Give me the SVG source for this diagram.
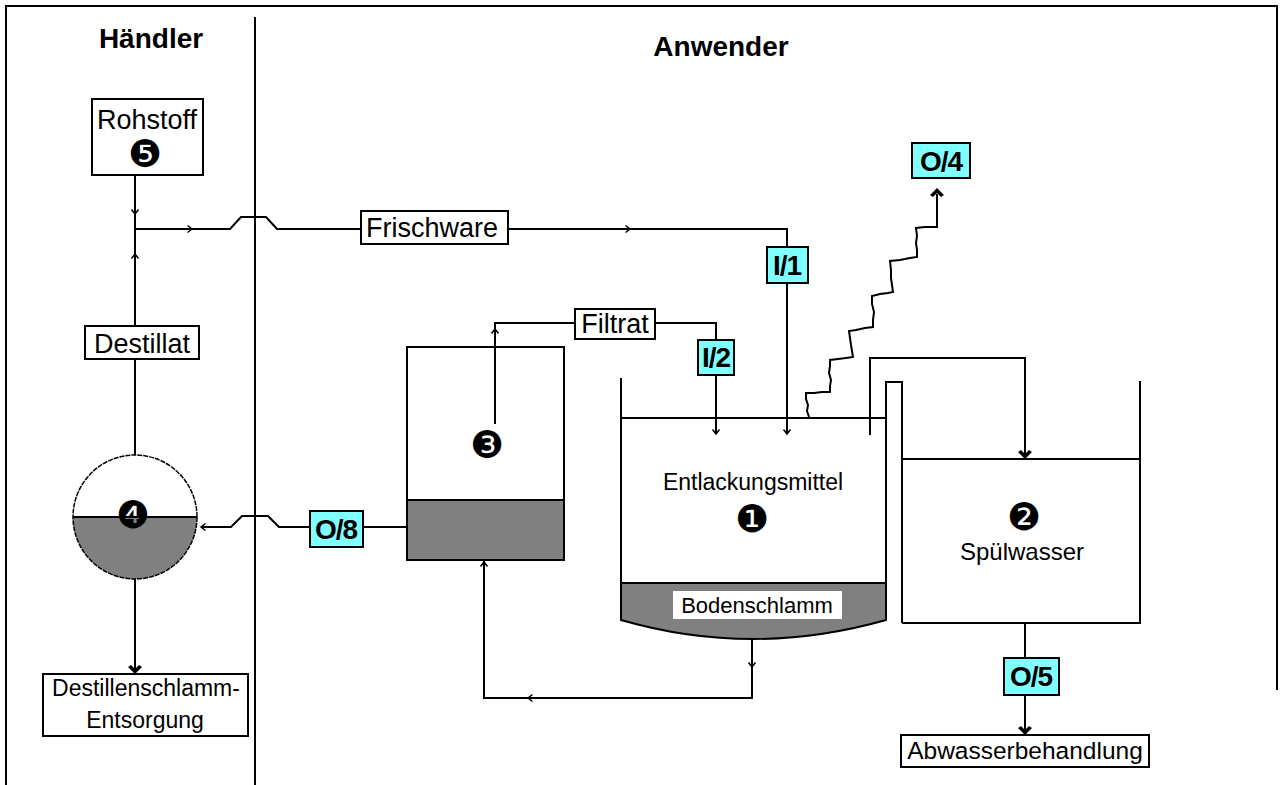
<svg xmlns="http://www.w3.org/2000/svg" width="1282" height="785" viewBox="0 0 1282 785">
<style>
  .ln{fill:none;stroke:#000;stroke-width:2}
  .box{fill:#fff;stroke:#000;stroke-width:2}
  .cy{fill:#80ffff;stroke:#000;stroke-width:2}
  .gr{fill:#808080;stroke:#000;stroke-width:2}
  .lbl{font-family:"Liberation Sans",Arial,sans-serif;font-size:27px;text-anchor:middle;fill:#000}
  .sm{font-family:"Liberation Sans",Arial,sans-serif;font-size:23px;text-anchor:middle;fill:#000}
  .cod{font-family:"Liberation Sans",Arial,sans-serif;font-size:28px;font-weight:bold;text-anchor:middle;fill:#000;letter-spacing:-1px}
  .hd{font-family:"Liberation Sans",Arial,sans-serif;font-size:28px;font-weight:bold;text-anchor:middle;fill:#000}
  .num{font-family:"DejaVu Sans",sans-serif;font-size:38px;text-anchor:middle;dominant-baseline:central;fill:#000}
  .tick{fill:none;stroke:#000;stroke-width:1.5}
</style>
<defs>
  <path id="tk" d="M-3.5,-4.5 L0,0 L3.5,-4.5" class="tick"/>
  <path id="ar" d="M0,0 L-7,-7 L-4,-9 L0,-5 L4,-9 L7,-7 Z" fill="#000"/>
</defs>

<g id="frame">
  <path class="ln" d="M6,785 L6,6 L1277,6 L1277,690" stroke-width="3"/>
  <line class="ln" x1="255" y1="17" x2="255" y2="785"/>
  <text class="hd" x="151" y="48">Händler</text>
  <text class="hd" x="721" y="56">Anwender</text>
</g>

<g id="connectors">
  <line class="ln" x1="135" y1="175" x2="135" y2="326"/>
  <use href="#tk" x="135" y="214"/>
  <use href="#tk" transform="translate(135,254) rotate(180)"/>
  <path class="ln" d="M135,229 L230,229 L241,217 L266,217 L277,229 L361,229"/>
  <use href="#tk" transform="translate(192,229) rotate(-90)"/>
  <path class="ln" d="M508,229 L787,229 L787,247"/>
  <use href="#tk" transform="translate(630,229) rotate(-90)"/>
  <line class="ln" x1="787" y1="283" x2="787" y2="433"/>
  <use href="#tk" x="787" y="434"/>
  <path class="ln" d="M495,424 L495,323 L575,323"/>
  <use href="#tk" transform="translate(495,329) rotate(180)"/>
  <path class="ln" d="M655,323 L716,323 L716,340"/>
  <line class="ln" x1="716" y1="375" x2="716" y2="433"/>
  <use href="#tk" x="716" y="434"/>
  <line class="ln" x1="135" y1="359" x2="135" y2="455"/>
  <line class="ln" x1="135" y1="579" x2="135" y2="670"/>
  <use href="#ar" x="135" y="674"/>
  <line class="ln" x1="363" y1="527" x2="415" y2="527"/>
  <path class="ln" d="M310,527 L279,527 L268,516 L242,516 L231,527 L201,527"/>
  <use href="#tk" transform="translate(201,527) rotate(90)"/>
  <path class="ln" d="M752,639 L752,698 L484,698 L484,561"/>
  <use href="#tk" x="752" y="667"/>
  <use href="#tk" transform="translate(528,698) rotate(90)"/>
  <use href="#tk" transform="translate(484,562) rotate(180)"/>
  <path class="ln" d="M870,435 L870,358 L1025,358 L1025,455"/>
  <use href="#ar" x="1025" y="459"/>
  <line class="ln" x1="1025" y1="623" x2="1025" y2="658"/>
  <line class="ln" x1="1025" y1="695" x2="1025" y2="731"/>
  <use href="#ar" x="1025" y="735"/>
  <polyline class="ln" points="809,417 807,411 808,405 806,399 806,393 814,393 822,392 830,392 830,386 831,380 829,373 830,366 830,360 838,359 846,358 853,357 852,351 851,345 850,338 849,331 856,330 865,328 873,327 873,320 874,312 872,304 872,296 880,294 888,293 893,292 892,285 891,278 891,270 890,261 900,260 910,258 917,257 917,250 916,243 917,236 916,228 925,227 937,227 937,194"/>
  <use href="#ar" transform="translate(937,188) rotate(180)"/>
</g>

<g id="rohstoff">
  <rect class="box" x="92" y="99" width="111" height="76"/>
  <text class="lbl" x="147" y="129">Rohstoff</text>
  <text class="num" x="145" y="154">❺</text>
</g>

<g id="frischware">
  <rect class="box" x="361" y="211" width="147" height="33"/>
  <text class="lbl" x="432" y="237">Frischware</text>
</g>

<g id="destillat">
  <rect class="box" x="85" y="326" width="114" height="33"/>
  <text class="lbl" x="142" y="353">Destillat</text>
</g>

<g id="destille">
  <path d="M73,517 A62,62 0 0 0 197,517 Z" fill="#808080"/>
  <circle cx="135" cy="517" r="62" fill="none" stroke="#000" stroke-width="1.5" stroke-dasharray="5,1"/>
  <line class="ln" x1="73" y1="517" x2="197" y2="517"/>
  <text class="num" x="133" y="515">❹</text>
</g>

<g id="entsorgung">
  <rect class="box" x="43" y="674" width="205" height="62"/>
  <text class="sm" x="146" y="696">Destillenschlamm-</text>
  <text class="sm" x="145" y="728">Entsorgung</text>
</g>

<g id="o8">
  <rect class="cy" x="310" y="511" width="53" height="36"/>
  <text class="cod" x="336" y="539">O/8</text>
</g>

<g id="tank3">
  <rect class="box" x="407" y="347" width="157" height="213"/>
  <rect class="gr" x="407" y="500" width="157" height="60"/>
  <line class="ln" x1="495" y1="424" x2="495" y2="347"/>
  <text class="num" x="487" y="445">❸</text>
</g>

<g id="filtrat">
  <rect class="box" x="575" y="309" width="80" height="30"/>
  <text class="lbl" x="615" y="333">Filtrat</text>
</g>

<g id="i2">
  <rect class="cy" x="698" y="340" width="36" height="35"/>
  <text class="cod" x="716" y="367">I/2</text>
</g>

<g id="i1">
  <rect class="cy" x="767" y="247" width="41" height="36"/>
  <text class="cod" x="787" y="275">I/1</text>
</g>

<g id="o4">
  <rect class="cy" x="912" y="143" width="58" height="35"/>
  <text class="cod" x="941" y="171">O/4</text>
</g>

<g id="tank1">
  <path class="gr" d="M621,583 L886,583 L886,620 Q752,658 621,620 Z"/>
  <path class="ln" d="M621,378 L621,620"/>
  <line class="ln" x1="621" y1="418" x2="886" y2="418"/>
  <rect x="673" y="591" width="169" height="28" fill="#fff"/>
  <text class="sm" x="757" y="613" style="font-size:22px">Bodenschlamm</text>
  <text class="sm" x="753" y="490">Entlackungsmittel</text>
  <text class="num" x="752" y="519">❶</text>
</g>

<g id="weir">
  <path class="ln" d="M886,620 L886,382 L902,382 L902,623"/>
</g>

<g id="tank2">
  <path class="ln" d="M902,623 L1140,623 L1140,381"/>
  <line class="ln" x1="902" y1="459" x2="1140" y2="459"/>
  <text class="num" x="1024" y="517">❷</text>
  <text class="sm" x="1022" y="560" style="font-size:24px">Spülwasser</text>
</g>

<g id="o5">
  <rect class="cy" x="1004" y="658" width="55" height="37"/>
  <text class="cod" x="1031" y="686">O/5</text>
</g>

<g id="abwasser">
  <rect class="box" x="901" y="735" width="248" height="32"/>
  <text class="sm" x="1025" y="759" style="font-size:24.5px">Abwasserbehandlung</text>
</g>
</svg>
